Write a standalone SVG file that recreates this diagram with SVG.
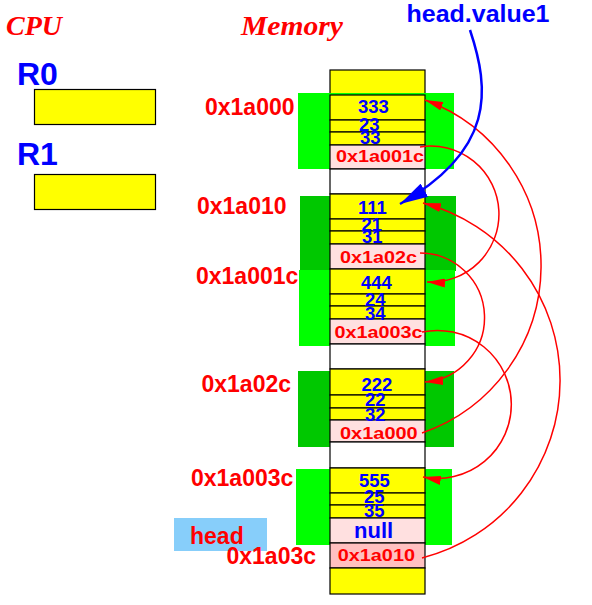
<svg xmlns="http://www.w3.org/2000/svg" width="592" height="605" viewBox="0 0 592 605">
<style>
.bg{fill:#ffffff}
.y{fill:#ffff00;stroke:#000;stroke-width:1.2}
.p{fill:#ffe0e0;stroke:#000;stroke-width:1.2}
.pd{fill:#ffc0c0;stroke:#000;stroke-width:1.2}
.w{fill:#ffffff;stroke:#000;stroke-width:1.2}
.gb{fill:#00ff00}
.gd{fill:#00c800}
.num{font-family:"Liberation Sans",Arial,sans-serif;font-weight:bold;font-size:18.5px;fill:#0000ff}
.addr{font-family:"Liberation Sans",Arial,sans-serif;font-weight:bold;font-size:17px;fill:#ff0000}
.lbl{font-family:"Liberation Sans",Arial,sans-serif;font-weight:bold;font-size:23px;fill:#ff0000}
.ttl{font-family:"Liberation Serif","Times New Roman",serif;font-weight:bold;font-style:italic;font-size:28px;fill:#ff0000}
.reg{font-family:"Liberation Sans",Arial,sans-serif;font-weight:bold;font-size:32px;fill:#0000ff}
.regbox{fill:#ffff00;stroke:#000;stroke-width:1.2}
.red{fill:none;stroke:#ff0000;stroke-width:1.5}
.blue{fill:none;stroke:#0000ff;stroke-width:2.5}
</style>
<defs>
<marker id="ahr" viewBox="0 0 18 9" refX="18" refY="4.5" markerWidth="18" markerHeight="9" markerUnits="userSpaceOnUse" orient="auto"><path d="M0,0 L18,4.5 L0,9 z" fill="#ff0000"/></marker>
<marker id="ahb" viewBox="0 0 28 15" refX="28" refY="7.5" markerWidth="28" markerHeight="15" markerUnits="userSpaceOnUse" orient="auto"><path d="M0,0 L28,7.5 L0,15 z" fill="#0000ff"/></marker>
</defs>
<rect class="bg" x="0" y="0" width="592" height="605"/>

<g id="title-cpu"><text class="ttl" x="6" y="34.5">CPU</text></g>
<g id="title-memory"><text class="ttl" x="241" y="35" textLength="102" lengthAdjust="spacingAndGlyphs">Memory</text></g>

<g id="reg-r0">
<text class="reg" x="17" y="85">R0</text>
<rect class="regbox" x="34.5" y="89.5" width="121" height="35"/>
</g>
<g id="reg-r1">
<text class="reg" x="17" y="165">R1</text>
<rect class="regbox" x="34.5" y="174.5" width="121" height="35"/>
</g>

<g id="mem-top">
<rect class="y" x="330" y="70" width="95" height="25"/>
</g>

<g id="node-0x1a000">
<text class="lbl" x="205" y="115">0x1a000</text>
<rect class="gb" x="298" y="93" width="156" height="76"/>
<rect class="y" x="330" y="95" width="95" height="25"/>
<rect class="y" x="330" y="120" width="95" height="12"/>
<rect class="y" x="330" y="132" width="95" height="13"/>
<rect class="p" x="330" y="145" width="95" height="24"/>
<text class="num" x="358" y="112.7">333</text>
<text class="num" x="359" y="131.3">23</text>
<text class="num" x="360" y="144">33</text>
<text class="addr" x="336" y="162" textLength="88" lengthAdjust="spacingAndGlyphs">0x1a001c</text>
</g>

<g id="gap-1"><rect class="w" x="330" y="169" width="95" height="25"/></g>

<g id="node-0x1a010">
<text class="lbl" x="197" y="214.3">0x1a010</text>
<rect class="gd" x="300" y="196" width="156" height="75"/>
<rect class="y" x="330" y="194" width="95" height="25"/>
<rect class="y" x="330" y="219" width="95" height="12"/>
<rect class="y" x="330" y="231" width="95" height="13"/>
<rect class="p" x="330" y="244" width="95" height="25"/>
<text class="num" x="358" y="214.3">111</text>
<text class="num" x="361.5" y="230.7">21</text>
<text class="num" x="362" y="243.3">31</text>
<text class="addr" x="340" y="263" textLength="77" lengthAdjust="spacingAndGlyphs">0x1a02c</text>
</g>

<g id="node-0x1a001c">
<text class="lbl" x="196" y="284">0x1a001c</text>
<rect class="gb" x="299" y="270" width="156" height="76"/>
<rect class="y" x="330" y="269" width="95" height="25"/>
<rect class="y" x="330" y="294" width="95" height="12"/>
<rect class="y" x="330" y="306" width="95" height="13"/>
<rect class="p" x="330" y="319" width="95" height="25"/>
<text class="num" x="361" y="289">444</text>
<text class="num" x="365" y="306">24</text>
<text class="num" x="365" y="320">34</text>
<text class="addr" x="334.5" y="337.7" textLength="88" lengthAdjust="spacingAndGlyphs">0x1a003c</text>
</g>

<g id="gap-2"><rect class="w" x="330" y="344" width="95" height="25"/></g>

<g id="node-0x1a02c">
<text class="lbl" x="201.5" y="391.7">0x1a02c</text>
<rect class="gd" x="298" y="371" width="156" height="76"/>
<rect class="y" x="330" y="369" width="95" height="26"/>
<rect class="y" x="330" y="395" width="95" height="13"/>
<rect class="y" x="330" y="408" width="95" height="12"/>
<rect class="p" x="330" y="420" width="95" height="22"/>
<text class="num" x="361.5" y="390.7">222</text>
<text class="num" x="365" y="405.7">22</text>
<text class="num" x="365" y="420.7">32</text>
<text class="addr" x="340" y="439" textLength="77.7" lengthAdjust="spacingAndGlyphs">0x1a000</text>
</g>

<g id="gap-3"><rect class="w" x="330" y="442" width="95" height="26"/></g>

<g id="node-0x1a003c">
<text class="lbl" x="191" y="485.7">0x1a003c</text>
<rect class="gb" x="296" y="469" width="156" height="76"/>
<rect class="y" x="330" y="468" width="95" height="25"/>
<rect class="y" x="330" y="493" width="95" height="12"/>
<rect class="y" x="330" y="505" width="95" height="13"/>
<rect class="p" x="330" y="518" width="95" height="25"/>
<text class="num" x="359" y="487.3">555</text>
<text class="num" x="364" y="503.3">25</text>
<text class="num" x="364" y="517.3">35</text>
<text class="num" x="354" y="538.3" style="font-size:22px">null</text>
</g>

<g id="head">
<rect x="174" y="518" width="93" height="33" fill="#87cefa"/>
<text class="lbl" x="190" y="544.3">head</text>
<text class="lbl" x="226.5" y="564">0x1a03c</text>
<rect class="pd" x="330" y="543" width="95" height="25"/>
<text class="addr" x="337.7" y="561" textLength="77.3" lengthAdjust="spacingAndGlyphs">0x1a010</text>
</g>

<g id="mem-bottom">
<rect class="y" x="330" y="568" width="95" height="26"/>
</g>

<g id="connectors">
<path class="red" d="M420,147 A68,68 0 1 1 427,282" marker-end="url(#ahr)"/>
<path class="red" d="M420,253 A64.6,64.6 0 0 1 425,382" marker-end="url(#ahr)"/>
<path class="red" d="M422,332 A74,74 0 1 1 423,477" marker-end="url(#ahr)"/>
<path class="red" d="M422,433 A176.7,176.7 0 0 0 425,100" marker-end="url(#ahr)"/>
<path class="red" d="M422,558 A183.3,183.3 0 0 0 423,203" marker-end="url(#ahr)"/>
<path class="blue" d="M470,30 C490,90 495,150 400,204" marker-end="url(#ahb)"/>
</g>

<g id="label-head-value1">
<text x="406.5" y="22" textLength="143" lengthAdjust="spacingAndGlyphs" style="font-family:'Liberation Sans',Arial,sans-serif;font-weight:bold;font-size:24px;fill:#0000ff">head.value1</text>
</g>
</svg>
